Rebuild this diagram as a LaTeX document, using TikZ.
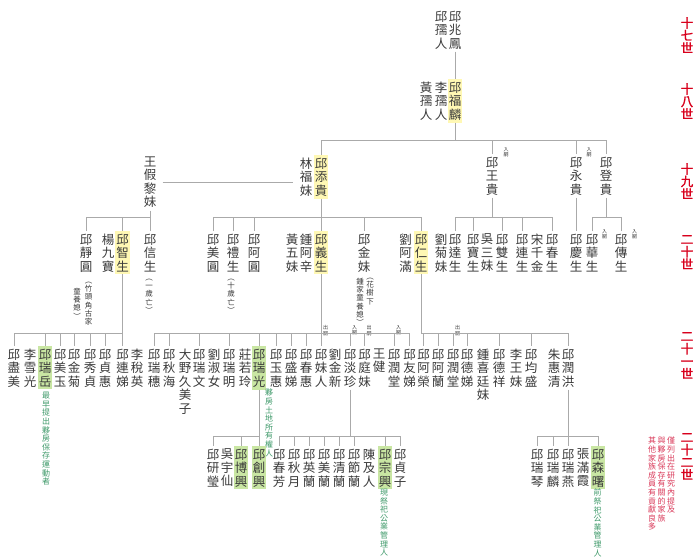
\documentclass[tikz,border=0pt]{standalone}
\usepackage{fontspec}
\setmainfont{Noto Sans CJK TC}
\newfontfamily\genbf{Noto Sans CJK TC}[FakeBold=1.5]
\usetikzlibrary{calc}
\definecolor{txt}{HTML}{3A3A3A}
\definecolor{lineC}{HTML}{AAAAAA}
\definecolor{hlY}{HTML}{FFF8B4}
\definecolor{hlG}{HTML}{C9E6A3}
\definecolor{annG}{HTML}{3F9A6A}
\definecolor{genR}{HTML}{D8001C}
\definecolor{noteR}{HTML}{DA3A5A}
\def\vtend{}
\newdimen\vtw
\def\vtA#1{\ifx#1\vtend\else\hbox to\vtw{\hss#1\hss}\expandafter\vtA\fi}
\newcommand\vt[1]{\vbox{\lineskiplimit=-20pt\lineskip=0pt\vtw=1em\vtA#1\vtend}}
\begin{document}
\begin{tikzpicture}[x=1pt,y=-1pt,
 nm/.style={anchor=north,inner xsep=1.2pt,inner ysep=2.5pt,text=txt,font=\fontsize{12.5}{13.5}\selectfont},
 hy/.style={nm,fill=hlY},
 hg/.style={nm,fill=hlG},
 sm/.style={anchor=north,inner sep=0pt,text=txt,font=\fontsize{7.5}{8.2}\selectfont},
 ga/.style={anchor=north,inner sep=0pt,text=annG,font=\fontsize{8}{8.6}\selectfont},
 tg/.style={anchor=north,inner sep=0pt,text=txt,font=\fontsize{5}{5.8}\selectfont},
 gen/.style={anchor=north,inner sep=0pt,text=genR,font=\genbf\fontsize{12.5}{12.5}\selectfont},
 nt/.style={anchor=north,inner sep=0pt,text=noteR,font=\fontsize{8}{8.6}\selectfont},
 ln/.style={draw=lineC,line width=0.8pt}]
\fill[white] (0,0) rectangle (695,558);
\useasboundingbox (0,0) rectangle (695,558);
\coordinate (y140) at (0,140);
\coordinate (y217) at (0,217);
\coordinate (y333) at (0,333);
\coordinate (y436) at (0,436);

% generation labels
\node[gen] (g17) at (687,17) {\vt{十七世}};
\node[gen] (g18) at (687,83) {\vt{十八世}};
\node[gen] (g19) at (687,163) {\vt{十九世}};
\node[gen] (g20) at (687,235) {\vt{二十世}};
\node[gen] (g21) at (687,332) {\vt{二十一世}};
\node[gen] (g22) at (687,433) {\vt{二十二世}};
\node[nt] (m1) at (671,437) {\vt{僅列出在研究內提及}};
\node[nt] (m2) at (661.5,437) {\vt{與夥房保存有關的家族}};
\node[nt] (m3) at (652,437) {\vt{其他家族成員有貢獻良多}};

% gen 17
\node[nm] (zf) at (455,8) {\vt{邱兆鳳}};
\node[nm] (qr) at (441,8) {\vt{邱孺人}};
% gen 18
\node[hy] (fl) at (455,79) {\vt{邱福麟}};
\node[nm] (lr) at (441,79) {\vt{李孺人}};
\node[nm] (hr) at (426,79) {\vt{黃孺人}};
% gen 19
\node[nm] (wjl) at (150,154) {\vt{王假黎妹}};
\node[nm] (lfm) at (306,155) {\vt{林福妹}};
\node[hy] (tg) at (321,155) {\vt{邱添貴}};
\node[nm] (wg) at (492,154) {\vt{邱王貴}};
\node[nm] (yg) at (576,154) {\vt{邱永貴}};
\node[nm] (dg) at (606,154) {\vt{邱登貴}};
\node[tg] (t1) at (506,147) {\vt{入嗣}};
\node[tg] (t2) at (589,147) {\vt{入嗣}};
% gen 20
\node[nm] (jy) at (86,231) {\vt{邱靜圓}};
\node[nm] (yjb) at (108,231) {\vt{楊九寶}};
\node[hy] (zs) at (122.5,231) {\vt{邱智生}};
\node[nm] (xs) at (150,231) {\vt{邱信生}};
\node[nm] (my) at (213,231) {\vt{邱美圓}};
\node[nm] (ls) at (233,231) {\vt{邱禮生}};
\node[nm] (ay) at (254,231) {\vt{邱阿圓}};
\node[nm] (hwm) at (292,231) {\vt{黃五妹}};
\node[nm] (zax) at (306,231) {\vt{鍾阿辛}};
\node[hy] (ys) at (321,231) {\vt{邱義生}};
\node[nm] (jm) at (364,231) {\vt{邱金妹}};
\node[nm] (lam) at (405.5,231) {\vt{劉阿滿}};
\node[hy] (rs) at (421,231) {\vt{邱仁生}};
\node[nm] (ljm) at (441,231) {\vt{劉菊妹}};
\node[nm] (ds) at (455,231) {\vt{邱達生}};
\node[nm] (bs) at (473,231) {\vt{邱寶生}};
\node[nm] (wsm) at (487,231) {\vt{吳三妹}};
\node[nm] (ss) at (502,231) {\vt{邱雙生}};
\node[nm] (lns) at (522,231) {\vt{邱連生}};
\node[nm] (sqj) at (537,231) {\vt{宋千金}};
\node[nm] (cs) at (552,231) {\vt{邱春生}};
\node[nm] (qs) at (576,231) {\vt{邱慶生}};
\node[nm] (hs) at (592,231) {\vt{邱華生}};
\node[nm] (cs2) at (621,231) {\vt{邱傳生}};
\node[tg] (t3) at (604.5,229) {\vt{入嗣}};
\node[tg] (t4) at (634.5,229) {\vt{入嗣}};
\node[sm] (a1r) at (88.5,282) {\vt{︵竹頭角古家}};
\node[sm] (a1l) at (77,288) {\vt{童養媳︶}};
\node[sm] (a2) at (149,279) {\vt{︵一歲亡︶}};
\node[sm] (a3) at (231,279) {\vt{︵十歲亡︶}};
\node[sm] (a4r) at (370,278) {\vt{︵花樹下}};
\node[sm] (a4l) at (360,278) {\vt{鍾家童養媳︶}};
% gen 21
\node[nm] (c1) at (14,346) {\vt{邱盡美}};
\node[nm] (c2) at (30,346) {\vt{李雪光}};
\node[hg] (ry) at (45,346) {\vt{邱瑞岳}};
\node[nm] (c4) at (60,346) {\vt{邱美玉}};
\node[nm] (c5) at (74,346) {\vt{邱金菊}};
\node[nm] (c6) at (90,346) {\vt{邱秀貞}};
\node[nm] (c7) at (105,346) {\vt{邱貞惠}};
\node[nm] (ld) at (122.5,346) {\vt{邱連娣}};
\node[nm] (c9) at (137,346) {\vt{李稅英}};
\node[nm] (d1) at (154,346) {\vt{邱瑞穗}};
\node[nm] (d2) at (169,346) {\vt{邱秋海}};
\node[nm] (d3) at (185,346) {\vt{大野久美子}};
\node[nm] (d4) at (199,346) {\vt{邱瑞文}};
\node[nm] (d5) at (214,346) {\vt{劉淑女}};
\node[nm] (d6) at (229,346) {\vt{邱瑞明}};
\node[nm] (d7) at (245,346) {\vt{莊若玲}};
\node[hg] (rg) at (259,346) {\vt{邱瑞光}};
\node[nm] (d9) at (276,346) {\vt{邱玉惠}};
\node[nm] (d10) at (291,346) {\vt{邱盛娣}};
\node[nm] (d11) at (306,346) {\vt{邱春惠}};
\node[nm] (mr) at (321,346) {\vt{邱妹人}};
\node[nm] (d13) at (335,346) {\vt{劉金新}};
\node[nm] (dz) at (350,346) {\vt{邱淡珍}};
\node[nm] (tm) at (364.5,346) {\vt{邱庭妹}};
\node[nm] (d16) at (379,346) {\vt{王健}};
\node[nm] (rt1) at (394,346) {\vt{邱潤堂}};
\node[nm] (yd) at (409.5,346) {\vt{邱友娣}};
\node[nm] (ar) at (423.5,346) {\vt{邱阿榮}};
\node[nm] (al) at (438,346) {\vt{邱阿蘭}};
\node[nm] (rt2) at (453,346) {\vt{邱潤堂}};
\node[nm] (dd) at (467,346) {\vt{邱德娣}};
\node[nm] (zxt) at (483,346) {\vt{鍾喜廷妹}};
\node[nm] (dx) at (499,346) {\vt{邱德祥}};
\node[nm] (lwm) at (516,346) {\vt{李王妹}};
\node[nm] (js) at (531,346) {\vt{邱均盛}};
\node[nm] (zhq) at (554,346) {\vt{朱惠清}};
\node[nm] (rh) at (568,346) {\vt{邱潤洪}};
\node[tg] (t5) at (325.5,325) {\vt{出嗣}};
\node[tg] (t6) at (354.5,325) {\vt{入嗣}};
\node[tg] (t7) at (369,325) {\vt{出嗣}};
\node[tg] (t8) at (398.5,325) {\vt{入嗣}};
\node[tg] (t9) at (457.5,325) {\vt{出嗣}};
\node[ga] (n1) at (46,392) {\vt{最早提出夥房保存運動者}};
\node[ga] (n2) at (269,389) {\vt{夥房土地所有權人}};
% gen 22
\node[nm] (yy) at (213,446) {\vt{邱研瑩}};
\node[nm] (wyx) at (227,446) {\vt{吳宇仙}};
\node[hg] (bx) at (241,446) {\vt{邱博興}};
\node[hg] (cx) at (259,446) {\vt{邱創興}};
\node[nm] (e1) at (279,446) {\vt{邱春芳}};
\node[nm] (e2) at (294,446) {\vt{邱秋月}};
\node[nm] (e3) at (309,446) {\vt{邱英蘭}};
\node[nm] (e4) at (324,446) {\vt{邱美蘭}};
\node[nm] (e5) at (339,446) {\vt{邱清蘭}};
\node[nm] (e6) at (354,446) {\vt{邱節蘭}};
\node[nm] (cjr) at (369,446) {\vt{陳及人}};
\node[hg] (zx) at (385,446) {\vt{邱宗興}};
\node[nm] (e9) at (400,446) {\vt{邱貞子}};
\node[nm] (rq) at (537,446) {\vt{邱瑞琴}};
\node[nm] (rl) at (553,446) {\vt{邱瑞麟}};
\node[nm] (rys) at (568,446) {\vt{邱瑞燕}};
\node[nm] (zmx) at (583,446) {\vt{張滿霞}};
\node[hg] (sc) at (598,446) {\vt{邱森曙}};
\node[ga] (n3) at (384,489) {\vt{現祭祀公業管理人}};
\node[ga] (n4) at (597.5,489) {\vt{前祭祀公業管理人}};

% connectors
\draw[ln] (zf.south) -- (fl.north);
\draw[ln] (fl.south) -- (fl.south |- y140);
\draw[ln] (tg.north |- y140) -- (dg.north |- y140);
\foreach \c in {tg,wg,yg,dg} \draw[ln] (\c.north) -- (\c.north |- y140);
\draw[ln] ($(wjl.east)+(5,0)$) -- ($(wjl.east -| lfm.west)+(-5,0)$);
% gen 19 -> 20
\draw[ln] (wjl.south) -- (wjl.south |- y217);
\draw[ln] (jy.north |- y217) -- (xs.north |- y217);
\foreach \c in {jy,zs,xs} \draw[ln] (\c.north) -- (\c.north |- y217);
\draw[ln] (tg.south) -- (ys.north);
\draw[ln] (my.north |- y217) -- (rs.north |- y217);
\foreach \c in {my,ls,ay,jm,rs} \draw[ln] (\c.north) -- (\c.north |- y217);
\draw[ln] (wg.south) -- (wg.south |- y217);
\draw[ln] (ds.north |- y217) -- (cs.north |- y217);
\foreach \c in {ds,bs,ss,lns,cs} \draw[ln] (\c.north) -- (\c.north |- y217);
\draw[ln] (yg.south) -- (qs.north);
\draw[ln] (dg.south) -- (dg.south |- y217);
\draw[ln] (hs.north |- y217) -- (cs2.north |- y217);
\foreach \c in {hs,cs2} \draw[ln] (\c.north) -- (\c.north |- y217);
% gen 20 -> 21
\draw[ln] (zs.south) -- (zs.south |- y333);
\draw[ln] (c1.north |- y333) -- (ld.north |- y333);
\foreach \c in {c1,ry,c4,c5,c6,c7,ld} \draw[ln] (\c.north) -- (\c.north |- y333);
\draw[ln] (ys.south) -- (ys.south |- y333);
\draw[ln] (d1.north |- y333) -- (yd.north |- y333);
\foreach \c in {d1,d2,d4,d6,rg,d9,d10,d11,mr,dz,tm,rt1,yd} \draw[ln] (\c.north) -- (\c.north |- y333);
\draw[ln] (rs.south) -- (rs.south |- y333);
\draw[ln] (rs.south |- y333) -- (rh.north |- y333);
\foreach \c in {ar,al,rt2,dd,dx,js,rh} \draw[ln] (\c.north) -- (\c.north |- y333);
% gen 21 -> 22
\draw[ln] (rg.south) -- (rg.south |- y436);
\draw[ln] (yy.north |- y436) -- (cx.north |- y436);
\foreach \c in {yy,bx,cx} \draw[ln] (\c.north) -- (\c.north |- y436);
\draw[ln] (dz.south) -- (dz.south |- y436);
\draw[ln] (e1.north |- y436) -- (e9.north |- y436);
\foreach \c in {e1,e2,e3,e4,e5,e6,zx,e9} \draw[ln] (\c.north) -- (\c.north |- y436);
\draw[ln] (rh.south) -- (rh.south |- y436);
\draw[ln] (rq.north |- y436) -- (sc.north |- y436);
\foreach \c in {rq,rl,rys,sc} \draw[ln] (\c.north) -- (\c.north |- y436);
\end{tikzpicture}
\end{document}
